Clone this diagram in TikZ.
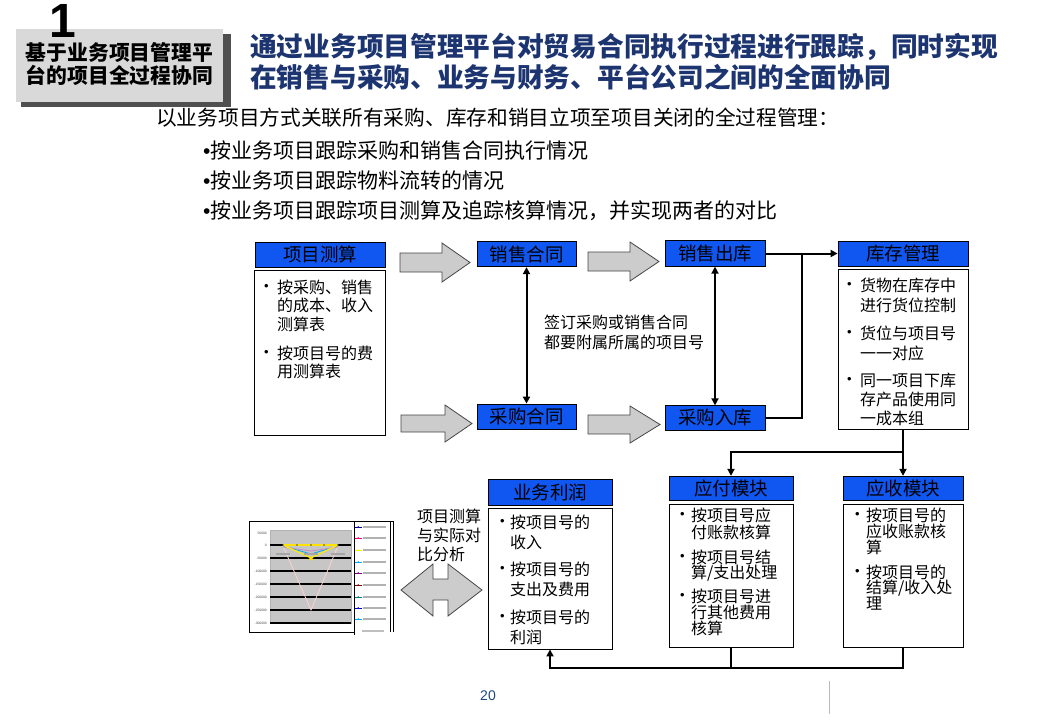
\documentclass[tikz,border=0pt]{standalone}
\usepackage{fontspec}
\newfontfamily\cjk{Noto Sans CJK SC}
\newfontfamily\lat{Liberation Sans}
\usetikzlibrary{arrows.meta}
\definecolor{hblue}{RGB}{16,86,240}
\definecolor{navy}{RGB}{28,52,112}
\definecolor{pnblue}{RGB}{31,73,125}
\definecolor{boxgray}{RGB}{217,217,217}
\definecolor{shadowgray}{RGB}{80,80,80}
\newcommand\fs[1]{\fontsize{#1}{#1}\selectfont}
\tikzset{
  hdr/.style={draw=black, line width=0.8pt, fill=hblue, inner sep=0pt, font=\cjk\fs{18.5}},
  cbox/.style={draw=black, line width=0.9pt, fill=white, inner sep=0pt},
  tl/.style={anchor=west, inner sep=0pt, font=\cjk\fs{16}},
  bul/.style={anchor=west, inner sep=0pt, font=\lat\fs{13}},
  conn/.style={draw=black, line width=2pt},
  tip/.style={-{Triangle[length=7pt,width=7pt]}},
  dtip/.style={{Triangle[length=7pt,width=7pt]}-{Triangle[length=7pt,width=7pt]}},
  blk/.style={fill=gray!40, draw=gray!55!black, line width=0.8pt},
  ylab/.style={anchor=east, inner sep=0pt, font=\lat\fs{3.3}, text=black!70}
}
\begin{document}
\begin{tikzpicture}[x=1pt,y=-1pt]
\useasboundingbox (0,0) rectangle (1040,720);
\fill[white] (0,0) rectangle (1040,720);

% header box
\fill[shadowgray] (21,34) rectangle (231,107);
\fill[boxgray] (16,29) rectangle (223,102);
\node[anchor=base, inner sep=0pt, font=\lat\bfseries\fs{48}] (num) at (63,37) {1};
\node[inner sep=0pt, font=\cjk\bfseries\fs{20.8}] (hd1) at (119.5,53) {基于业务项目管理平};
\node[inner sep=0pt, font=\cjk\bfseries\fs{20.8}] (hd2) at (119.5,75.5) {台的项目全过程协同};

% title
\node[anchor=west, inner sep=0pt, font=\cjk\bfseries\fs{26.7}, text=navy] (ttl1) at (250,47) {通过业务项目管理平台对贸易合同执行过程进行跟踪，同时实现};
\node[anchor=west, inner sep=0pt, font=\cjk\bfseries\fs{26.7}, text=navy] (ttl2) at (250,77) {在销售与采购、业务与财务、平台公司之间的全面协同};

% intro
\node[anchor=west, inner sep=0pt, font=\cjk\fs{20.7}] (intro) at (156,118) {以业务项目方式关联所有采购、库存和销目立项至项目关闭的全过程管理：};
\node[anchor=west, inner sep=0pt, font=\cjk\fs{21}] (ib1) at (203,150) {{\lat •}按业务项目跟踪采购和销售合同执行情况};
\node[anchor=west, inner sep=0pt, font=\cjk\fs{21}] (ib2) at (203,180) {{\lat •}按业务项目跟踪物料流转的情况};
\node[anchor=west, inner sep=0pt, font=\cjk\fs{21}] (ib3) at (203,211) {{\lat •}按业务项目跟踪项目测算及追踪核算情况，并实现两者的对比};

% block arrows
\draw[blk] (400,253) -- (442,253) -- (442,243) -- (470,262.5) -- (442,282) -- (442,272) -- (400,272) -- cycle;
\draw[blk] (401,415) -- (445,415) -- (445,405) -- (472,423.5) -- (445,442) -- (445,432) -- (401,432) -- cycle;
\draw[blk] (588,252) -- (630,252) -- (630,242) -- (659,261.5) -- (630,281) -- (630,271) -- (588,271) -- cycle;
\draw[blk] (588,415) -- (630,415) -- (630,406) -- (660,424.5) -- (630,443) -- (630,434) -- (588,434) -- cycle;
\draw[blk] (401,590) -- (433,564) -- (433,579) -- (448,579) -- (448,564) -- (482,590) -- (448,616) -- (448,600) -- (433,600) -- (433,616) -- cycle;

% 项目测算
\node[hdr, minimum width=130pt, minimum height=25pt] (ycs) at (320,254.5) {项目测算};
\node[cbox, minimum width=131pt, minimum height=165pt] (ycsB) at (320,352.5) {};
\node[bul] (ycs1) at (264,287) {•};
\node[tl] (ycs2) at (277,287) {按采购、销售};
\node[tl] (ycs3) at (277,305.5) {的成本、收入};
\node[tl] (ycs4) at (277,324) {测算表};
\node[bul] (ycs5) at (264,353) {•};
\node[tl] (ycs6) at (277,353) {按项目号的费};
\node[tl] (ycs7) at (277,371.5) {用测算表};

% contracts and stock
\node[hdr, minimum width=99pt, minimum height=25.5pt] (xsht) at (526.5,254) {销售合同};
\node[hdr, minimum width=99pt, minimum height=25pt] (cght) at (526.5,416.5) {采购合同};
\node[hdr, minimum width=100pt, minimum height=25.5pt] (xsck) at (715,253.5) {销售出库};
\node[hdr, minimum width=100pt, minimum height=24.5pt] (cgrk) at (715,418) {采购入库};
\node[anchor=west, inner sep=0pt, font=\cjk\fs{16}] (lab1) at (544,322) {签订采购或销售合同};
\node[anchor=west, inner sep=0pt, font=\cjk\fs{16}] (lab2) at (544,342) {都要附属所属的项目号};

% 库存管理
\node[hdr, minimum width=130pt, minimum height=25pt] (kcgl) at (903,253.5) {库存管理};
\node[cbox, minimum width=130pt, minimum height=160pt] (kcglB) at (903,349.5) {};
\node[bul] (kc1) at (847,285) {•};
\node[tl] (kc2) at (860,285) {货物在库存中};
\node[tl] (kc3) at (860,305) {进行货位控制};
\node[bul] (kc4) at (847,333) {•};
\node[tl] (kc5) at (860,333) {货位与项目号};
\node[tl] (kc6) at (860,353) {一一对应};
\node[bul] (kc7) at (847,380) {•};
\node[tl] (kc8) at (860,380) {同一项目下库};
\node[tl] (kc9) at (860,399.5) {存产品使用同};
\node[tl] (kc10) at (860,418) {一成本组};

% 应付模块
\node[hdr, minimum width=124pt, minimum height=24.5pt] (yfmk) at (731,488.5) {应付模块};
\node[cbox, minimum width=124pt, minimum height=143pt] (yfB) at (731,575.5) {};
\node[bul] (yf1) at (680,515) {•};
\node[tl] (yf2) at (691,515) {按项目号应};
\node[tl] (yf3) at (691,532) {付账款核算};
\node[bul] (yf4) at (680,557) {•};
\node[tl] (yf5) at (691,557) {按项目号结};
\node[tl] (yf6) at (691,573.5) {算/支出处理};
\node[bul] (yf7) at (680,596) {•};
\node[tl] (yf8) at (691,596) {按项目号进};
\node[tl] (yf9) at (691,612.5) {行其他费用};
\node[tl] (yf10) at (691,628.5) {核算};

% 应收模块
\node[hdr, minimum width=120pt, minimum height=24.5pt] (ysmk) at (903,488.5) {应收模块};
\node[cbox, minimum width=120pt, minimum height=143pt] (ysB) at (903,575.5) {};
\node[bul] (ys1) at (855,515) {•};
\node[tl] (ys2) at (866,515) {按项目号的};
\node[tl] (ys3) at (866,531.5) {应收账款核};
\node[tl] (ys4) at (866,547.5) {算};
\node[bul] (ys5) at (855,572) {•};
\node[tl] (ys6) at (866,572) {按项目号的};
\node[tl] (ys7) at (866,588) {结算/收入处};
\node[tl] (ys8) at (866,604) {理};

% 业务利润
\node[hdr, minimum width=124pt, minimum height=26pt] (ywlr) at (550,492) {业务利润};
\node[cbox, minimum width=124pt, minimum height=141pt] (ywlrB) at (550,578.5) {};
\node[bul] (yw1) at (500,522) {•};
\node[tl] (yw2) at (510,522) {按项目号的};
\node[tl] (yw3) at (510,542) {收入};
\node[bul] (yw4) at (500,569) {•};
\node[tl] (yw5) at (510,569) {按项目号的};
\node[tl] (yw6) at (510,589) {支出及费用};
\node[bul] (yw7) at (500,617) {•};
\node[tl] (yw8) at (510,617) {按项目号的};
\node[tl] (yw9) at (510,637) {利润};

\node[anchor=west, inner sep=0pt, font=\cjk\fs{16}] (cmp1) at (417,516) {项目测算};
\node[anchor=west, inner sep=0pt, font=\cjk\fs{16}] (cmp2) at (417,535.5) {与实际对};
\node[anchor=west, inner sep=0pt, font=\cjk\fs{16}] (cmp3) at (417,554.5) {比分析};

% connectors
\draw[conn, dtip] (xsht) -- (cght);
\draw[conn, dtip] (xsck) -- (cgrk);
\draw[conn, tip] (xsck.east) -- (kcgl.west);
\coordinate (j1) at (802,253.5);
\draw[conn] (cgrk.east) -| (j1);
\coordinate (s1) at (903,452);
\draw[conn] (kcglB.south) -- (s1);
\draw[conn, tip] (s1) -- (ysmk.north);
\draw[conn, tip] (s1) -| (yfmk.north);
\coordinate (s2) at (903,668);
\coordinate (s3) at (550,668);
\draw[conn, tip] (ysB.south) -- (s2) -- (s3) -- (ywlrB.south);
\draw[conn] (yfB.south) -- (yfB.south |- s2);

% chart picture
\draw[line width=0.8pt] (249,521) -- (394,521);
\draw[line width=0.8pt] (249,521) -- (249,632) -- (354,632);
\draw[line width=0.8pt] (354,521) -- (354,635);
\draw[line width=0.6pt] (390,521) -- (390,632);
\draw[line width=0.6pt] (393.5,521) -- (393.5,632);
\fill[gray!45] (270,530) rectangle (351,623);
\draw[gray!60, line width=0.4pt] (270,530) rectangle (351,623);
\foreach \yy in {545,558,571,584,597,610,623} {\draw[line width=1.1pt] (270,\yy) -- (351,\yy);}
\node[ylab] (yl1) at (267,533) {50000};
\node[ylab] (yl2) at (267,545) {0};
\node[ylab] (yl3) at (267,558) {-50000};
\node[ylab] (yl4) at (267,571) {-100000};
\node[ylab] (yl5) at (267,584) {-150000};
\node[ylab] (yl6) at (267,597) {-200000};
\node[ylab] (yl7) at (267,610) {-250000};
\node[ylab] (yl8) at (267,623) {-300000};
\draw[pink!70, line width=0.8pt] (283,546) -- (311,610) -- (338,546);
\draw[cyan, line width=0.8pt] (283,546) -- (311,554) -- (338,546);
\draw[violet!45, line width=0.8pt] (283,547) -- (311,551) -- (338,547);
\draw[yellow!95!orange, line width=1.2pt] (283,545) -- (311,558) -- (338,545);
\fill[yellow!80!orange] (311,556) -- (313.5,560) -- (308.5,560) -- cycle;
\draw[yellow!85!orange, line width=1.8pt] (283,545) -- (338,545);
\foreach \xx in {283,297,311,324,338} {\fill[black!70] (\xx,545) circle (0.9pt);}
\foreach \xx in {283,311,338} {\fill[black!35] (\xx-7,552.5) rectangle (\xx+7,555);}
\foreach \yy/\cc in {527/blue!60!black,538/magenta,550/yellow,562/cyan,573/violet,585/red!50!black,597/teal,608/blue!80!black,619/cyan} {
  \draw[\cc, line width=0.7pt] (355,\yy) -- (361.5,\yy);
  \fill[\cc] (358.2,\yy) circle (0.9pt);
  \fill[black!30] (363,\yy-1.2) rectangle (386,\yy+1.2);
}
\fill[black!25] (362,629.5) rectangle (384,631.5);

% page number
\node[inner sep=0pt, font=\lat\fs{14}, text=pnblue] (pg) at (488,696) {20};
\draw[gray!55, line width=1pt] (829,681) -- (829,714);
\end{tikzpicture}
\end{document}
